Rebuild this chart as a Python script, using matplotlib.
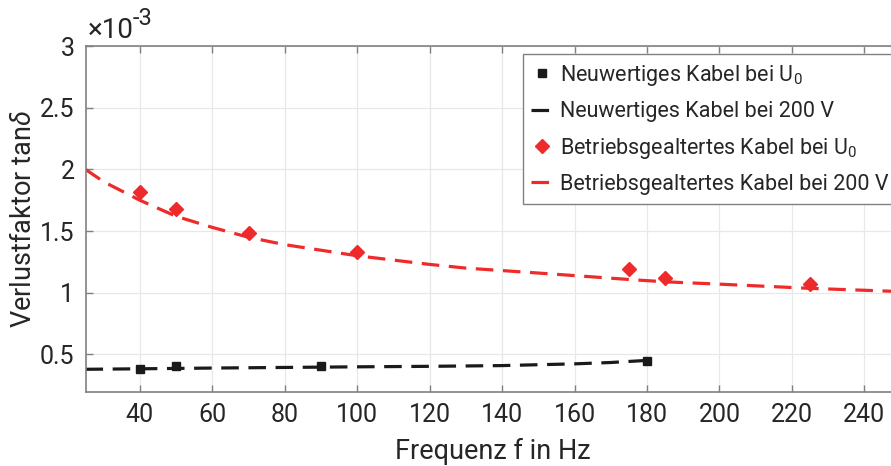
import matplotlib.pyplot as plt

plt.rcParams["font.family"] = ["Roboto", "DejaVu Sans"]
plt.rcParams["mathtext.fontset"] = "custom"
plt.rcParams["mathtext.rm"] = "Roboto"
plt.rcParams["mathtext.it"] = "Roboto:italic"
plt.rcParams["mathtext.default"] = "regular"

# values in units of 1e-3
f_new = [40, 50, 90, 180]
tan_new = [0.38, 0.41, 0.41, 0.447]

f_new_fit = [25, 40, 60, 80, 100, 120, 140, 160, 170, 180]
tan_new_fit = [0.38, 0.384, 0.39, 0.395, 0.40, 0.404, 0.41, 0.424, 0.435, 0.452]

f_old = [40, 50, 70, 100, 175, 185, 225]
tan_old = [1.818, 1.678, 1.481, 1.33, 1.19, 1.117, 1.07]

f_old_fit = [25, 30, 40, 50, 60, 70, 80, 100, 120, 130, 150, 175, 185, 200, 225, 250]
tan_old_fit = [2.0, 1.9, 1.75, 1.62, 1.53, 1.45, 1.39, 1.30, 1.23, 1.20, 1.16,
               1.108, 1.089, 1.07, 1.036, 1.01]

xticks = [40, 60, 80, 100, 120, 140, 160, 180, 200, 220, 240]
yticks = [0.5, 1, 1.5, 2, 2.5, 3]

black = "#1a1a1a"
red = "#ee2a2a"

fig = plt.figure(figsize=(8.91, 4.66), dpi=100)
ax = fig.add_axes([85.5 / 891, 74.5 / 466, 815 / 891, 345.5 / 466])

ax.plot(f_new, tan_new, "s", color=black, markersize=6, label="Neuwertiges Kabel bei U$_0$")
ax.plot(f_new_fit, tan_new_fit, color=black, lw=2.3, dashes=(5.5, 3),
        label="Neuwertiges Kabel bei 200 V")
ax.plot(f_old, tan_old, "D", color=red, markersize=7,
        label="Betriebsgealtertes Kabel bei U$_0$")
ax.plot(f_old_fit, tan_old_fit, color=red, lw=2.3, dashes=(5.5, 3),
        label="Betriebsgealtertes Kabel bei 200 V")

ax.set_xlim(25, 250)
ax.set_ylim(0.2, 3)
ax.set_xticks(xticks)
ax.set_yticks(yticks)
ax.set_yticklabels(["0.5", "1", "1.5", "2", "2.5", "3"])
ax.tick_params(direction="in", length=5, width=1, colors="#808080",
               labelcolor="#262626", labelsize=18, top=True, pad=8)
ax.grid(True, color="#e8e8e8", lw=0.9)
for s in ["left", "bottom", "top"]:
    ax.spines[s].set_color("#808080")
    ax.spines[s].set_linewidth(1.2)
ax.spines["right"].set_visible(False)

ax.set_xlabel("Frequenz f in Hz", fontsize=19.5, color="#262626", labelpad=8)
ax.set_ylabel(r"Verlustfaktor tan$\mathit{\delta}$", fontsize=19.5, color="#262626", labelpad=2)

ax.text(0.003, 1.005, "×10", transform=ax.transAxes,
        fontsize=20, color="#262626", ha="left", va="bottom")
ax.text(0.058, 1.045, "-3", transform=ax.transAxes,
        fontsize=17, color="#262626", ha="left", va="bottom")

leg = ax.legend(loc="upper left", bbox_to_anchor=(522.7 / 891, 1 - 54.3 / 466),
                bbox_transform=fig.transFigure, fontsize=15.5, frameon=True,
                fancybox=False, edgecolor="#808080", framealpha=1,
                handlelength=1.0, handletextpad=0.35, labelspacing=0.62,
                borderpad=0.4, borderaxespad=0)
leg.get_frame().set_linewidth(1.0)
for t in leg.get_texts():
    t.set_color("#262626")

fig.savefig("out.png", dpi=100)
